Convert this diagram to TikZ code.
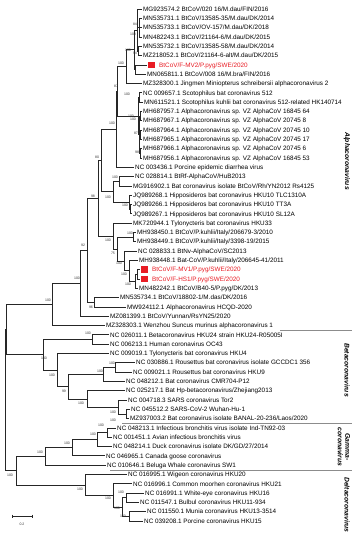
\documentclass[tikz,border=0pt]{standalone}
\usepackage{fontspec}
\setmainfont{Liberation Sans}
\definecolor{cred}{RGB}{232,28,36}
\newcommand{\redleaf}[1]{\textcolor{cred}{\raisebox{-0.9pt}{\rule{6.5pt}{6.5pt}}\hspace{4.5pt}#1}}
\begin{document}
\begin{tikzpicture}[x=1pt,y=-1pt,
  br/.style={line width=0.7pt, draw=black!85},
  leaf/.style={anchor=base west, inner xsep=1.5pt, inner ysep=0pt, yshift=-2.25pt, font=\fontsize{6.35}{7}\selectfont},
  bs/.style={font=\fontsize{3.5}{4}\selectfont, inner sep=0pt, text=black!80},
  clade/.style={rotate=-90, font=\fontsize{6.8}{7.6}\selectfont\bfseries\itshape, align=center, inner sep=0pt},
  sepline/.style={draw=black!45, line width=0.4pt}]
\useasboundingbox (0,0) rectangle (361,550);

% leaf tips
\coordinate (t1) at (141.5,9.0);
\coordinate (t2) at (141.5,18.3);
\coordinate (t3) at (141.5,27.6);
\coordinate (t4) at (141.5,36.9);
\coordinate (t5) at (141.5,46.2);
\coordinate (t6) at (141.5,55.5);
\coordinate (t7) at (146.5,64.9);
\coordinate (t8) at (145.5,74.2);
\coordinate (t9) at (141.5,83.5);
\coordinate (t10) at (141.5,92.8);
\coordinate (t11) at (142.5,102.1);
\coordinate (t12) at (141.5,111.4);
\coordinate (t13) at (141.5,120.7);
\coordinate (t14) at (141.5,130.0);
\coordinate (t15) at (141.5,139.3);
\coordinate (t16) at (141.5,148.6);
\coordinate (t17) at (141.5,157.9);
\coordinate (t18) at (133.5,167.3);
\coordinate (t19) at (133.5,176.6);
\coordinate (t20) at (131.5,185.9);
\coordinate (t21) at (131.5,195.2);
\coordinate (t22) at (131.5,204.5);
\coordinate (t23) at (131.5,213.8);
\coordinate (t24) at (131.5,223.1);
\coordinate (t25) at (135.5,232.4);
\coordinate (t26) at (135.5,241.7);
\coordinate (t27) at (136.5,251.0);
\coordinate (t28) at (137.5,260.3);
\coordinate (t29) at (139.5,269.7);
\coordinate (t30) at (139.5,279.0);
\coordinate (t31) at (137.5,288.3);
\coordinate (t32) at (118.5,297.6);
\coordinate (t33) at (125.5,306.9);
\coordinate (t34) at (108.5,316.2);
\coordinate (t35) at (104.5,325.5);
\coordinate (t36) at (108.5,334.8);
\coordinate (t37) at (108.5,344.1);
\coordinate (t38) at (108.5,353.4);
\coordinate (t39) at (134.5,362.7);
\coordinate (t40) at (131.5,372.0);
\coordinate (t41) at (124.5,381.4);
\coordinate (t42) at (124.5,390.7);
\coordinate (t43) at (126.5,400.0);
\coordinate (t44) at (129.5,409.3);
\coordinate (t45) at (128.5,418.6);
\coordinate (t46) at (115.5,427.9);
\coordinate (t47) at (111.5,437.2);
\coordinate (t48) at (111.5,446.5);
\coordinate (t49) at (104.5,455.8);
\coordinate (t50) at (105.5,465.1);
\coordinate (t51) at (126.5,474.4);
\coordinate (t52) at (131.5,483.8);
\coordinate (t53) at (143.5,493.1);
\coordinate (t54) at (138.5,502.4);
\coordinate (t55) at (145.5,511.7);
\coordinate (t56) at (142.5,521.0);

% internal nodes
\coordinate (iM84) at (139,27.6);
\coordinate (iM94) at (138.5,50.85);
\coordinate (iMdau) at (137,29.9);
\coordinate (iC) at (135.5,69.55);
\coordinate (iB) at (134,49.7);
\coordinate (iD) at (126,66.6);
\coordinate (iS) at (139.5,97.45);
\coordinate (iVza) at (140.3,116.05);
\coordinate (iVzb) at (140.5,134.65);
\coordinate (iVzc) at (140.5,153.25);
\coordinate (iVz) at (139.3,134.65);
\coordinate (iG) at (138.5,116.05);
\coordinate (iF) at (117,91.3);
\coordinate (iFF) at (116,129.3);
\coordinate (iJ) at (119,181.25);
\coordinate (iHs) at (130.5,209.15);
\coordinate (iHku) at (129,202.2);
\coordinate (iK) at (113,191.7);
\coordinate (iH) at (101,160.5);
\coordinate (iQ) at (133.5,237.05);
\coordinate (iUa) at (137.5,274.35);
\coordinate (iUb) at (135,281.3);
\coordinate (iUc) at (129,270.8);
\coordinate (iUd) at (124,260.9);
\coordinate (iV) at (117,249);
\coordinate (iO) at (113,236.05);
\coordinate (iL) at (98,198.3);
\coordinate (iP) at (94,302.25);
\coordinate (iMm) at (87,250.3);
\coordinate (iAa) at (80,283.25);
\coordinate (iW) at (52,304.4);
\coordinate (iBa) at (92,339.45);
\coordinate (iBh) at (115,367.35);
\coordinate (iBb) at (103,374.4);
\coordinate (iSb) at (126,413.95);
\coordinate (iSa) at (118,407);
\coordinate (iSc) at (87,398.85);
\coordinate (iBd) at (68,386.6);
\coordinate (iBe) at (57,370);
\coordinate (iBf) at (43,354.7);
\coordinate (iAb) at (6,329.55);
\coordinate (iGa) at (107,432.55);
\coordinate (iGb) at (97,439.5);
\coordinate (iGc) at (72.5,447.65);
\coordinate (iGd) at (45,456.4);
\coordinate (iDa) at (126,497.75);
\coordinate (iDb) at (129,516.35);
\coordinate (iDc) at (122,507.05);
\coordinate (iDd) at (113,495.4);
\coordinate (iDe) at (85,484.9);
\coordinate (iGD) at (16,470.65);
\coordinate (iRoot) at (5,400.1);

% branches
\foreach \p/\c in {iM84/t2,iM84/t3,iM84/t4,iM94/t5,iM94/t6,iMdau/t1,iMdau/iM84,iMdau/iM94,
  iC/t7,iC/t8,iB/iMdau,iB/iC,iD/iB,iD/t9,iS/t10,iS/t11,iVza/t12,iVza/t13,iVzb/t14,iVzb/t15,
  iVzc/t16,iVzc/t17,iVz/iVza,iVz/iVzb,iVz/iVzc,iG/iS,iG/iVz,iF/iD,iF/iG,iFF/iF,iFF/t18,
  iJ/t19,iJ/t20,iHs/t22,iHs/t23,iHku/t21,iHku/iHs,iK/iJ,iK/iHku,iH/iFF,iH/iK,
  iQ/t25,iQ/t26,iUa/t29,iUa/t30,iUb/iUa,iUb/t31,iUc/t28,iUc/iUb,iUd/t27,iUd/iUc,
  iV/iQ,iV/iUd,iO/t24,iO/iV,iL/iH,iL/iO,iP/t32,iP/t33,iMm/iL,iMm/iP,iAa/iMm,iAa/t34,
  iW/iAa,iW/t35,iBa/t36,iBa/t37,iBh/t39,iBh/t40,iBb/iBh,iBb/t41,iSb/t44,iSb/t45,
  iSa/t43,iSa/iSb,iSc/t42,iSc/iSa,iBd/iBb,iBd/iSc,iBe/t38,iBe/iBd,iBf/iBa,iBf/iBe,
  iAb/iW,iAb/iBf,iGa/t46,iGa/t47,iGb/iGa,iGb/t48,iGc/iGb,iGc/t49,iGd/iGc,iGd/t50,
  iDa/t53,iDa/t54,iDb/t55,iDb/t56,iDc/iDa,iDc/iDb,iDd/t52,iDd/iDc,iDe/t51,iDe/iDd,
  iGD/iGd,iGD/iDe,iRoot/iAb,iRoot/iGD}
  \draw[br] (\p) |- (\c);

% leaf labels
\node[leaf] (n1) at (t1) {MG923574.2 BtCoV/020 16/M.dau/FIN/2016};
\node[leaf] (n2) at (t2) {MN535731.1 BtCoV/13585-35/M.dau/DK/2014};
\node[leaf] (n3) at (t3) {MN535733.1 BtCoV/OV-157/M.dau/DK/2018};
\node[leaf] (n4) at (t4) {MN482243.1 BtCoV/21164-6/M.dau/DK/2015};
\node[leaf] (n5) at (t5) {MN535732.1 BtCoV/13585-58/M.dau/DK/2014};
\node[leaf] (n6) at (t6) {MZ218052.1 BtCoV/21164-6-alt/M.dau/DK/2015};
\node[leaf] (n7) at (t7) {\redleaf{BtCoV/F-MV2/P.pyg/SWE/2020}};
\node[leaf] (n8) at (t8) {MN065811.1 BtCoV/008 16/M.bra/FIN/2016};
\node[leaf] (n9) at (t9) {MZ328300.1 Jingmen Miniopterus schreibersii alphacoronavirus 2};
\node[leaf] (n10) at (t10) {NC 009657.1 Scotophilus bat coronavirus 512};
\node[leaf] (n11) at (t11) {MN611521.1 Scotophilus kuhlii bat coronavirus 512-related HK140714};
\node[leaf] (n12) at (t12) {MH687957.1 Alphacoronavirus sp. VZ AlphaCoV 16845 64};
\node[leaf] (n13) at (t13) {MH687967.1 Alphacoronavirus sp. VZ AlphaCoV 20745 8};
\node[leaf] (n14) at (t14) {MH687964.1 Alphacoronavirus sp. VZ AlphaCoV 20745 10};
\node[leaf] (n15) at (t15) {MH687965.1 Alphacoronavirus sp. VZ AlphaCoV 20745 17};
\node[leaf] (n16) at (t16) {MH687966.1 Alphacoronavirus sp. VZ AlphaCoV 20745 6};
\node[leaf] (n17) at (t17) {MH687956.1 Alphacoronavirus sp. VZ AlphaCoV 16845 53};
\node[leaf] (n18) at (t18) {NC 003436.1 Porcine epidemic diarrhea virus};
\node[leaf] (n19) at (t19) {NC 028814.1 BtRf-AlphaCoV/HuB2013};
\node[leaf] (n20) at (t20) {MG916902.1 Bat coronavirus isolate BtCoV/Rh/YN2012 Rs4125};
\node[leaf] (n21) at (t21) {JQ989268.1 Hipposideros bat coronavirus HKU10 TLC1310A};
\node[leaf] (n22) at (t22) {JQ989266.1 Hipposideros bat coronavirus HKU10 TT3A};
\node[leaf] (n23) at (t23) {JQ989267.1 Hipposideros bat coronavirus HKU10 SL12A};
\node[leaf] (n24) at (t24) {MK720944.1 Tylonycteris bat coronavirus HKU33};
\node[leaf] (n25) at (t25) {MH938450.1 BtCoV/P.kuhlii/Italy/206679-3/2010};
\node[leaf] (n26) at (t26) {MH938449.1 BtCoV/P.kuhlii/Italy/3398-19/2015};
\node[leaf] (n27) at (t27) {NC 028833.1 BtNv-AlphaCoV/SC2013};
\node[leaf] (n28) at (t28) {MH938448.1 Bat-CoV/P.kuhlii/Italy/206645-41/2011};
\node[leaf] (n29) at (t29) {\redleaf{BtCoV/F-MV1/P.pyg/SWE/2020}};
\node[leaf] (n30) at (t30) {\redleaf{BtCoV/F-HS1/P.pyg/SWE/2020}};
\node[leaf] (n31) at (t31) {MN482242.1 BtCoV/B40-5/P.pyg/DK/2013};
\node[leaf] (n32) at (t32) {MN535734.1 BtCoV/18802-1/M.das/DK/2016};
\node[leaf] (n33) at (t33) {MW924112.1 Alphacoronavirus HCQD-2020};
\node[leaf] (n34) at (t34) {MZ081399.1 BtCoV/Yunnan/RsYN25/2020};
\node[leaf] (n35) at (t35) {MZ328303.1 Wenzhou Suncus murinus alphacoronavirus 1};
\node[leaf] (n36) at (t36) {NC 026011.1 Betacoronavirus HKU24 strain HKU24-R05005I};
\node[leaf] (n37) at (t37) {NC 006213.1 Human coronavirus OC43};
\node[leaf] (n38) at (t38) {NC 009019.1 Tylonycteris bat coronavirus HKU4};
\node[leaf] (n39) at (t39) {NC 030886.1 Rousettus bat coronavirus isolate GCCDC1 356};
\node[leaf] (n40) at (t40) {NC 009021.1 Rousettus bat coronavirus HKU9};
\node[leaf] (n41) at (t41) {NC 048212.1 Bat coronavirus CMR704-P12};
\node[leaf] (n42) at (t42) {NC 025217.1 Bat Hp-betacoronavirus/Zhejiang2013};
\node[leaf] (n43) at (t43) {NC 004718.3 SARS coronavirus Tor2};
\node[leaf] (n44) at (t44) {NC 045512.2 SARS-CoV-2 Wuhan-Hu-1};
\node[leaf] (n45) at (t45) {MZ937003.2 Bat coronavirus isolate BANAL-20-236/Laos/2020};
\node[leaf] (n46) at (t46) {NC 048213.1 Infectious bronchitis virus isolate Ind-TN92-03};
\node[leaf] (n47) at (t47) {NC 001451.1 Avian infectious bronchitis virus};
\node[leaf] (n48) at (t48) {NC 048214.1 Duck coronavirus isolate DK/GD/27/2014};
\node[leaf] (n49) at (t49) {NC 046965.1 Canada goose coronavirus};
\node[leaf] (n50) at (t50) {NC 010646.1 Beluga Whale coronavirus SW1};
\node[leaf] (n51) at (t51) {NC 016995.1 Wigeon coronavirus HKU20};
\node[leaf] (n52) at (t52) {NC 016996.1 Common moorhen coronavirus HKU21};
\node[leaf] (n53) at (t53) {NC 016991.1 White-eye coronavirus HKU16};
\node[leaf] (n54) at (t54) {NC 011547.1 Bulbul coronavirus HKU11-934};
\node[leaf] (n55) at (t55) {NC 011550.1 Munia coronavirus HKU13-3514};
\node[leaf] (n56) at (t56) {NC 039208.1 Porcine coronavirus HKU15};

% bootstrap values
\node[bs] (b1) at (135,24) {84};
\node[bs] (b2) at (133,34) {100};
\node[bs] (b3) at (128,50) {100};
\node[bs] (b4) at (135,53) {94};
\node[bs] (b5) at (121,63) {100};
\node[bs] (b6) at (116,86) {87};
\node[bs] (b7) at (127,94) {100};
\node[bs] (b8) at (131,116) {100};
\node[bs] (b9) at (133,119.5) {100};
\node[bs] (b10) at (112,123) {100};
\node[bs] (b11) at (136,133) {87};
\node[bs] (b12) at (137,152) {98};
\node[bs] (b13) at (97,157) {80};
\node[bs] (b14) at (115,177) {100};
\node[bs] (b15) at (108,197) {100};
\node[bs] (b16) at (93,196) {98};
\node[bs] (b17) at (125,205) {100};
\node[bs] (b18) at (130,233) {100};
\node[bs] (b19) at (108,240) {100};
\node[bs] (b20) at (83,245) {92};
\node[bs] (b21) at (113,253) {75};
\node[bs] (b22) at (119,263) {100};
\node[bs] (b23) at (124,274) {100};
\node[bs] (b24) at (77,278) {100};
\node[bs] (b25) at (128,284) {100};
\node[bs] (b26) at (48,300) {100};
\node[bs] (b27) at (91,307) {96};
\node[bs] (b28) at (88,333) {100};
\node[bs] (b29) at (44,358) {100};
\node[bs] (b30) at (112,363) {100};
\node[bs] (b31) at (100,371) {100};
\node[bs] (b32) at (52,375) {100};
\node[bs] (b33) at (64,391) {99};
\node[bs] (b34) at (81,403) {100};
\node[bs] (b35) at (113,412) {100};
\node[bs] (b36) at (113,420) {100};
\node[bs] (b37) at (101,425) {100};
\node[bs] (b38) at (93,434) {100};
\node[bs] (b39) at (67,443) {100};
\node[bs] (b40) at (40,452) {100};
\node[bs] (b41) at (10,475) {100};
\node[bs] (b42) at (80,489) {100};
\node[bs] (b43) at (121,492) {100};
\node[bs] (b44) at (108,498) {100};
\node[bs] (b45) at (117,508) {100};
\node[bs] (b46) at (123,516) {100};

% group separators
\coordinate (s1a) at (280,330); \coordinate (s1b) at (352,330);
\coordinate (s2a) at (122,423); \coordinate (s2b) at (352,423);
\coordinate (s3a) at (110,470); \coordinate (s3b) at (352,470);
\draw[sepline] (s1a) -- (s1b);
\draw[sepline] (s2a) -- (s2b);
\draw[sepline] (s3a) -- (s3b);

% clade names
\node[clade] (cA) at (347,161) {Alphacoronavirus};
\node[clade] (cB) at (347,370) {Betacoronavirus};
\node[clade] (cG) at (344,447) {Gamma-\\coronavirus};
\node[clade] (cD) at (347,505) {Deltacoronavirus};

% scale bar
\coordinate (sc1) at (12,516); \coordinate (sc2) at (32,516);
\draw[br] (sc1) -- (sc2);
\draw[br] ([yshift=1.5pt]sc1) -- ([yshift=-1.5pt]sc1);
\draw[br] ([yshift=1.5pt]sc2) -- ([yshift=-1.5pt]sc2);
\node[bs] (scl) at (22,524) {0.2};
\end{tikzpicture}
\end{document}
